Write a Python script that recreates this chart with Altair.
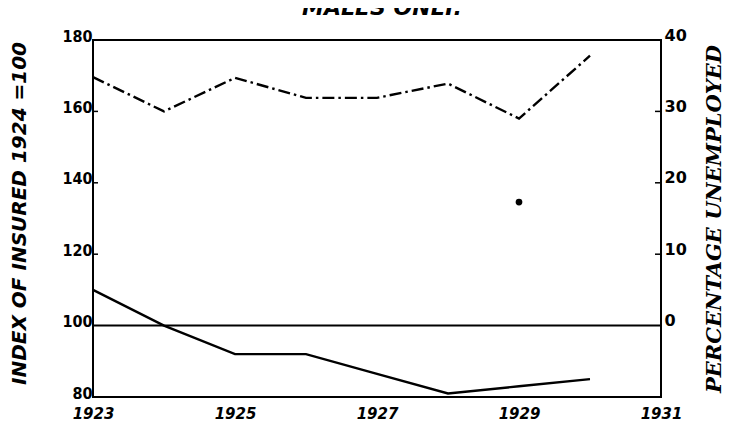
import altair as alt
import pandas as pd

# ---- data ----
years = [1923, 1924, 1925, 1926, 1927, 1928, 1929, 1930]
insured_index = [110, 100, 92, 92, 86.5, 81, 83, 85]          # left scale, 1924 = 100
pct_unemployed = [34.8, 30.0, 34.7, 31.9, 31.9, 33.9, 29.0, 37.8]  # right scale
dot_year = [1929]
dot_pct = [17.3]
x_ticks = [1923, 1925, 1927, 1929, 1931]
left_ticks = [80, 100, 120, 140, 160, 180]
right_ticks = [0, 10, 20, 30, 40]
left_inner_ticks = [120, 140, 160]
right_inner_ticks = [10, 20, 30]
base_line = [100]
title_text = ["MALES ONLY."]
left_title = ["INDEX OF INSURED 1924 =100"]
right_title = ["PERCENTAGE UNEMPLOYED"]

W, H = 568, 357

xs = alt.Scale(domain=[1923, 1931], nice=False, zero=False)
ls = alt.Scale(domain=[80, 180], nice=False, zero=False)
rs = alt.Scale(domain=[-10, 40], nice=False, zero=False)

df_ins = pd.DataFrame({"year": years, "index": insured_index})
df_pct = pd.DataFrame({"year": years, "pct": pct_unemployed})
df_dot = pd.DataFrame({"year": dot_year, "pct": dot_pct})
df_base = pd.DataFrame({"v": base_line})
df_lt = pd.DataFrame({"v": left_inner_ticks})
df_rt = pd.DataFrame({"v": right_inner_ticks})

x_axis = alt.Axis(values=x_ticks, format="d", title=None, domain=False, ticks=False,
                  grid=False, labelFont="DejaVu Sans", labelFontSize=15,
                  labelFontWeight="bold", labelFontStyle="italic", labelPadding=9,
                  labelFlush=False, labelColor="black")
left_axis = alt.Axis(values=left_ticks, title=None, domain=False, ticks=False, grid=False,
                     labelFont="DejaVu Sans Condensed, DejaVu Sans", labelFontSize=16,
                     labelFontWeight="bold", labelPadding=1, labelBaseline="middle",
                     labelOffset=-4, labelColor="black")
right_axis = alt.Axis(values=right_ticks, orient="right", title=None, domain=False,
                      ticks=False, grid=False, labelFont="DejaVu Sans", labelFontSize=16,
                      labelFontWeight="bold", labelPadding=3, labelBaseline="alphabetic",
                      labelOffset=0, labelColor="black")

X = alt.X("year:Q", scale=xs, axis=x_axis)

insured = alt.Chart(df_ins).mark_line(color="black", strokeWidth=2.4).encode(
    x=X,
    y=alt.Y("index:Q", scale=ls, axis=left_axis),
)

base = alt.Chart(df_base).mark_rule(color="black", strokeWidth=2).encode(
    y=alt.Y("v:Q", scale=ls, axis=None)
)

left_ticks_m = alt.Chart(df_lt).mark_rule(color="black", strokeWidth=1.5).encode(
    y=alt.Y("v:Q", scale=ls, axis=None), x=alt.value(0), x2=alt.value(5)
)

unemp = alt.Chart(df_pct).mark_line(color="black", strokeWidth=2.4, strokeDash=[12, 4, 2.5, 4]).encode(
    x=X,
    y=alt.Y("pct:Q", scale=rs, axis=right_axis),
)

dot = alt.Chart(df_dot).mark_point(filled=True, color="black", size=45, opacity=1).encode(
    x=X,
    y=alt.Y("pct:Q", scale=rs, axis=None),
)

right_ticks_m = alt.Chart(df_rt).mark_rule(color="black", strokeWidth=1.5).encode(
    y=alt.Y("v:Q", scale=rs, axis=None), x=alt.value(W - 6), x2=alt.value(W)
)

t_main = alt.Chart(pd.DataFrame({"t": title_text})).mark_text(
    font="DejaVu Sans", fontSize=22, fontWeight="bold", fontStyle="italic",
    align="center", baseline="alphabetic", color="black"
).encode(text="t:N", x=alt.value(289), y=alt.value(-25))

t_left = alt.Chart(pd.DataFrame({"t": left_title})).mark_text(
    font="DejaVu Sans", fontSize=20, fontWeight="bold", fontStyle="italic",
    align="left", baseline="middle", angle=270, color="black"
).encode(text="t:N", x=alt.value(-73), y=alt.value(345))

t_right = alt.Chart(pd.DataFrame({"t": right_title})).mark_text(
    font="DejaVu Serif", fontSize=21, fontWeight="bold", fontStyle="italic",
    align="left", baseline="middle", angle=270, color="black"
).encode(text="t:N", x=alt.value(622), y=alt.value(353))

chart = alt.layer(
    insured, base, left_ticks_m, unemp, dot, right_ticks_m, t_main, t_left, t_right
).resolve_scale(y="independent").properties(
    width=W, height=H,
    padding={"left": 85, "top": 32, "right": 65, "bottom": 27},
    autosize=alt.AutoSizeParams(type="none"),
    background="white",
).configure_view(stroke="black", strokeWidth=2)

chart.save("out.html", embed_options={"renderer": "svg", "actions": False})
